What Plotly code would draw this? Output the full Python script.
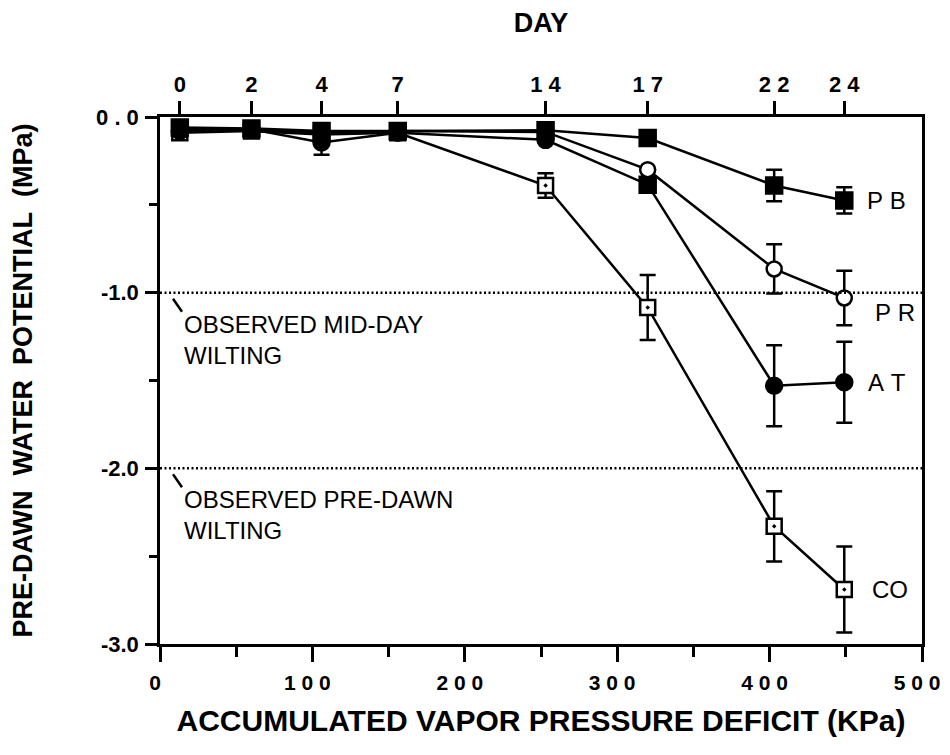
import plotly.graph_objects as go

# ---------------- data ----------------
vpd = [13, 60, 106, 156, 253, 320, 403, 449]          # accumulated VPD (KPa) at each sampling day
day_labels = ["0", "2", "4", "7", "1 4", "1 7", "2 2", "2 4"]

x_ticks = [0, 100, 200, 300, 400, 500]
x_ticklabels = ["0", "1 0 0", "2 0 0", "3 0 0", "4 0 0", "5 0 0"]
x_minor = [50, 150, 250, 350, 450]
y_ticks = [0.0, -1.0, -2.0, -3.0]
y_ticklabels = ["0 . 0", "-1.0", "-2.0", "-3.0"]
y_minor = [-0.5, -1.5, -2.5]

pb = [-0.06, -0.065, -0.08, -0.08, -0.075, -0.12, -0.39, -0.475]
pb_err = [0, 0, 0, 0, 0, 0, 0.09, 0.075]
pr = [-0.07, -0.07, -0.09, -0.08, -0.085, -0.30, -0.865, -1.03]
pr_err = [0, 0, 0, 0, 0, 0, 0.14, 0.155]
at = [-0.08, -0.07, -0.145, -0.09, -0.13, -0.385, -1.53, -1.51]
at_err = [0, 0, 0.07, 0, 0, 0, 0.23, 0.23]
co = [-0.09, -0.08, -0.10, -0.09, -0.39, -1.085, -2.33, -2.69]
co_err = [0, 0, 0, 0, 0.07, 0.185, 0.20, 0.245]

series_names = ["PB", "PR", "AT", "CO"]
series_labels = ["P B", "P R", "A T", "CO"]

wilting_levels = [-1.0, -2.0]
wilting_labels = ["OBSERVED MID-DAY<br>WILTING", "OBSERVED PRE-DAWN<br>WILTING"]

# ---------------- styling ----------------
NB = "\u00a0"
def sp(s):
    return s.replace(" ", NB)

FONT = "Liberation Sans, Arial, Helvetica, sans-serif"
BLACK = "black"
LW = 2.5

styles = {
    "CO": dict(symbol="square-dot", color="white", size=15),
    "AT": dict(symbol=["circle"] * 5 + ["square"] + ["circle"] * 2, color=BLACK, size=16),
    "PR": dict(symbol="circle", color="white", size=15),
    "PB": dict(symbol="square", color=BLACK, size=16),
}
data = {"PB": (pb, pb_err), "PR": (pr, pr_err), "AT": (at, at_err), "CO": (co, co_err)}
label_shift = {"PB": (21, 0), "PR": (29, -15), "AT": (22, 0), "CO": (26, 0)}

fig = go.Figure()

# error bars (only where an error was drawn)
for name in ["CO", "AT", "PR", "PB"]:
    y, e = data[name]
    idx = [i for i, v in enumerate(e) if v > 0]
    fig.add_trace(go.Scatter(
        x=[vpd[i] for i in idx], y=[y[i] for i in idx], mode="markers",
        marker=dict(size=1, color="rgba(0,0,0,0)"),
        error_y=dict(type="data", array=[e[i] for i in idx], color=BLACK,
                     thickness=LW, width=8),
        showlegend=False, hoverinfo="skip"))

# lines + markers
for name in ["CO", "AT", "PR", "PB"]:
    y, e = data[name]
    st = styles[name]
    fig.add_trace(go.Scatter(
        x=vpd, y=y, mode="lines+markers", name=name,
        line=dict(color=BLACK, width=LW),
        marker=dict(symbol=st["symbol"], size=st["size"], color=st["color"],
                    line=dict(color=BLACK, width=LW)),
        showlegend=False))

# invisible trace on the top (DAY) axis so it is drawn
fig.add_trace(go.Scatter(x=vpd, y=pb, xaxis="x2", mode="markers",
                         marker=dict(size=1, color="rgba(0,0,0,0)"),
                         showlegend=False, hoverinfo="skip"))

# series labels at the last point of each series
for name, lab in zip(series_names, series_labels):
    y, _ = data[name]
    dx, dy = label_shift[name]
    fig.add_annotation(x=vpd[-1], y=y[-1], xref="x", yref="y", text=sp(lab),
                       showarrow=False, xanchor="left", yanchor="middle",
                       xshift=dx, yshift=dy,
                       font=dict(family=FONT, size=24, color=BLACK))

# wilting reference lines, leaders and labels
for lvl, lab in zip(wilting_levels, wilting_labels):
    fig.add_shape(type="line", xref="paper", x0=0, x1=1, yref="y", y0=lvl, y1=lvl,
                  line=dict(color=BLACK, width=2.5, dash="2px,2.5px"))
    fig.add_shape(type="line", xref="x", xsizemode="pixel", xanchor=0, x0=13, x1=22,
                  yref="y", ysizemode="pixel", yanchor=lvl, y0=-6, y1=-19,
                  line=dict(color=BLACK, width=2.5))
    fig.add_annotation(x=0, y=lvl, xref="x", yref="y", text=lab, showarrow=False,
                       xanchor="left", yanchor="top", align="left",
                       xshift=22, yshift=-16,
                       font=dict(family=FONT, size=24, color=BLACK))

tickfont = dict(family=FONT, size=22, color=BLACK, weight="bold")

fig.update_layout(
    width=942, height=747,
    margin=dict(l=152, r=28, t=109, b=111, autoexpand=False),
    paper_bgcolor="white", plot_bgcolor="white",
    xaxis=dict(range=[0, 500], tickmode="array", tickvals=x_ticks,
               ticktext=[sp(t) for t in x_ticklabels],
               ticks="outside", ticklen=15, tickwidth=2.5, tickcolor=BLACK,
               minor=dict(tickmode="array", tickvals=x_minor, ticks="outside",
                          ticklen=10, tickwidth=2.5, tickcolor=BLACK),
               showline=True, linecolor=BLACK, linewidth=2.5, mirror=True,
               showgrid=False, zeroline=False,
               tickfont=dict(family=FONT, size=21, color=BLACK, weight="bold"),
               ticklabelstandoff=3, ticklabelshift=-5, automargin=False,
               title=dict(text="ACCUMULATED VAPOR PRESSURE DEFICIT (KPa)",
                          font=dict(family=FONT, size=30, color=BLACK, weight="bold"),
                          standoff=18)),
    xaxis2=dict(range=[0, 500], overlaying="x", side="top", anchor="y",
                tickmode="array", tickvals=vpd,
                ticktext=[sp(t) for t in day_labels],
                ticks="outside", ticklen=15, tickwidth=2.5, tickcolor=BLACK,
                showline=False, showgrid=False, zeroline=False, tickfont=tickfont,
                ticklabelstandoff=0, automargin=False,
                title=dict(text="DAY", font=dict(family=FONT, size=27, color=BLACK,
                                                 weight="bold"), standoff=32)),
    yaxis=dict(range=[-3, 0], tickmode="array", tickvals=y_ticks,
               ticktext=[sp(t) for t in y_ticklabels],
               ticks="outside", ticklen=12, tickwidth=2.5, tickcolor=BLACK,
               minor=dict(tickmode="array", tickvals=y_minor, ticks="outside",
                          ticklen=8, tickwidth=2.5, tickcolor=BLACK),
               showline=True, linecolor=BLACK, linewidth=2.5, mirror=True,
               showgrid=False, zeroline=False, tickfont=tickfont,
               ticklabelstandoff=2, automargin=False,
               title=dict(text=sp("PRE-DAWN  WATER  POTENTIAL  (MPa)"),
                          font=dict(family=FONT, size=27, color=BLACK, weight="bold"),
                          standoff=58)),
)

fig.write_html("out.html")
